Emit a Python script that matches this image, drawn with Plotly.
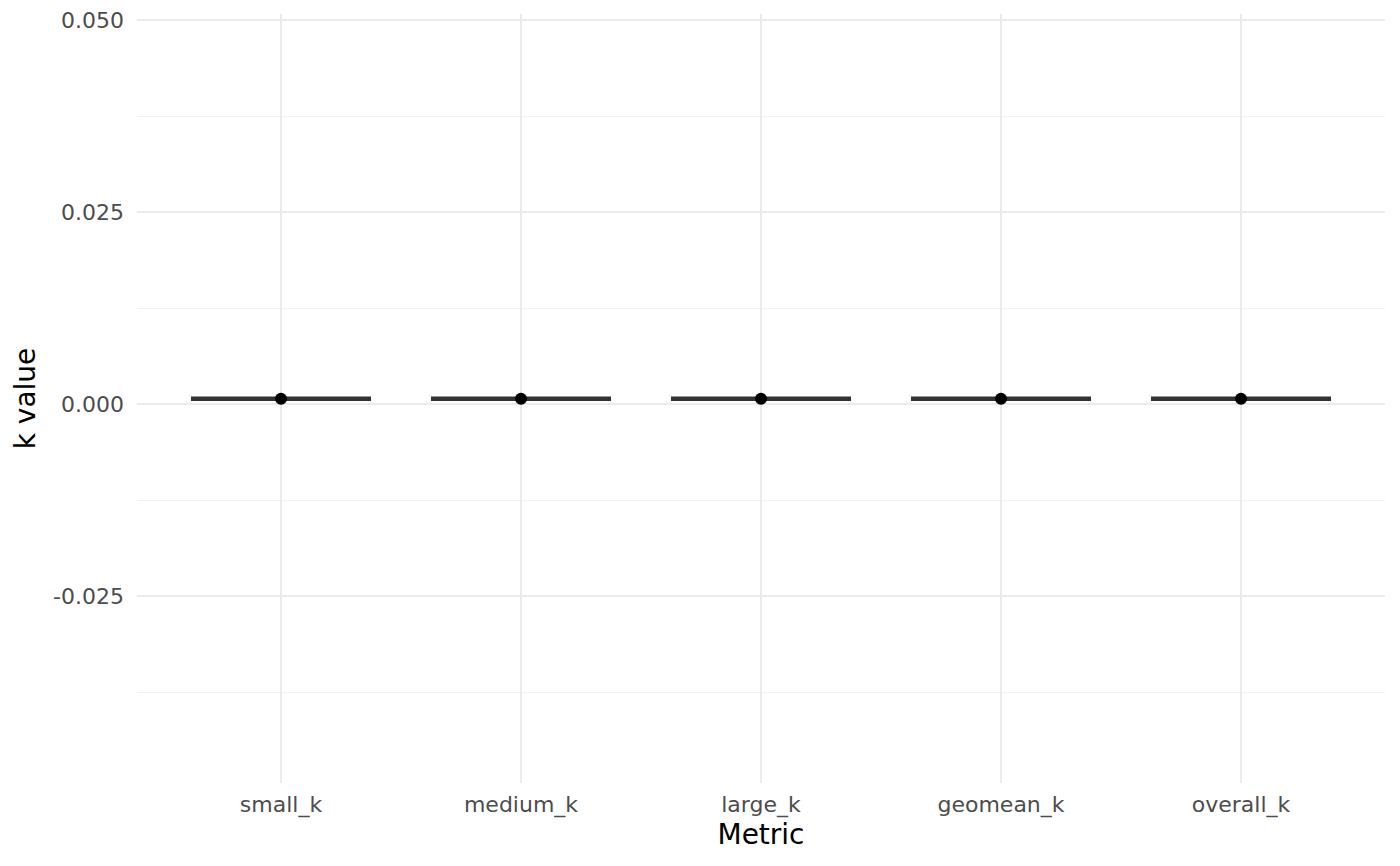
import plotly.graph_objects as go

metrics = ["small_k", "medium_k", "large_k", "geomean_k", "overall_k"]
# k value observed per metric (all runs collapse to the same value)
k_values = {
    "small_k": [0.00068, 0.00068, 0.00068],
    "medium_k": [0.00068, 0.00068, 0.00068],
    "large_k": [0.00068, 0.00068, 0.00068],
    "geomean_k": [0.00068, 0.00068, 0.00068],
    "overall_k": [0.00068, 0.00068, 0.00068],
}
y_ticks = [-0.025, 0.0, 0.025, 0.050]
y_tick_text = ["-0.025", "0.000", "0.025", "0.050"]
y_minor = [-0.0375, -0.0125, 0.0125, 0.0375]

xs, ys = [], []
for m in metrics:
    xs += [m] * len(k_values[m])
    ys += k_values[m]

fig = go.Figure()
fig.add_trace(go.Box(
    x=xs, y=ys,
    boxpoints=False,
    width=0.75,
    line=dict(color="#333333", width=4.5),
    fillcolor="rgba(255,255,255,0)",
    showlegend=False,
))
fig.add_trace(go.Scatter(
    x=metrics,
    y=[k_values[m][0] for m in metrics],
    mode="markers",
    marker=dict(color="black", size=12),
    showlegend=False,
))

# page body keeps its 8px default margin, so the figure is sized to fit inside
fig.update_layout(
    template="none",
    width=1384, height=850,
    margin=dict(l=129, r=7, t=6, b=75),
    plot_bgcolor="white",
    paper_bgcolor="white",
    font=dict(family="DejaVu Sans", size=22, color="#4d4d4d"),
    xaxis=dict(
        title=dict(text="Metric", font=dict(size=28, color="black"), standoff=7),
        categoryorder="array", categoryarray=metrics,
        range=[-0.6, 4.6],
        showgrid=True, gridcolor="#ebebeb", gridwidth=2,
        zeroline=False, showline=False, ticks="",
        tickfont=dict(size=22, color="#4d4d4d"),
        ticklabelstandoff=6,
        automargin=False,
    ),
    yaxis=dict(
        title=dict(text="k value", font=dict(size=28, color="black"), standoff=9),
        range=[-0.04935, 0.0508],
        tickvals=y_ticks, ticktext=y_tick_text,
        showgrid=True, gridcolor="#ebebeb", gridwidth=2,
        zeroline=False, showline=False, ticks="",
        tickfont=dict(size=22, color="#4d4d4d"),
        ticklabelstandoff=12,
        ticklabeloverflow="allow",
        minor=dict(tickvals=y_minor, showgrid=True, gridcolor="#f0f0f0", gridwidth=1.2),
        automargin=False,
    ),
)

fig.write_html("out.html")
